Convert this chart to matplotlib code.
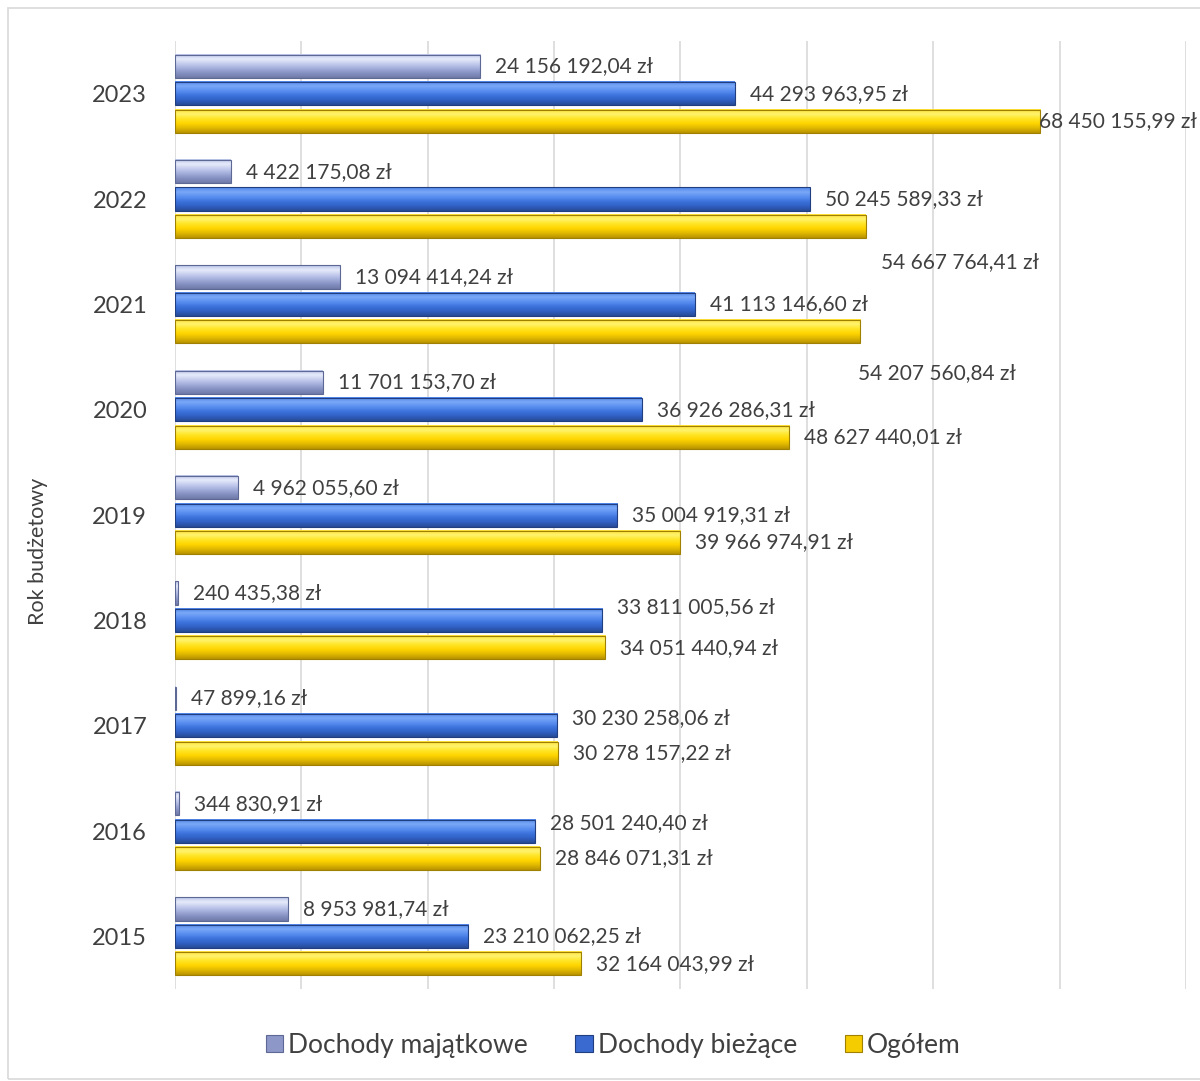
import matplotlib
matplotlib.use("Agg")
import matplotlib.pyplot as plt
import matplotlib.ticker as mticker
import numpy as np
from matplotlib.colors import LinearSegmentedColormap
from matplotlib.patches import Rectangle

# ── Data ──
years = ["2015", "2016", "2017", "2018", "2019", "2020", "2021", "2022", "2023"]

dochody_majatkowe = [8953981.74, 344830.91, 47899.16, 240435.38, 4962055.60,
                     11701153.70, 13094414.24, 4422175.08, 24156192.04]
dochody_biezace = [23210062.25, 28501240.40, 30230258.06, 33811005.56, 35004919.31,
                   36926286.31, 41113146.60, 50245589.33, 44293963.95]
ogolem = [32164043.99, 28846071.31, 30278157.22, 34051440.94, 39966974.91,
          48627440.01, 54207560.84, 54667764.41, 68450155.99]

series_names = ["Dochody majątkowe", "Dochody bieżące", "Ogółem"]

# ── Style ──
FONT = "Lato"
TEXT_COLOR = "#404040"
GRID_COLOR = "#d9d9d9"

# gradient stops (bottom -> top) for the bevelled Excel-like bars
GRADIENTS = [
    ["#6f7aa8", "#8591c2", "#a3aedb", "#c4cced", "#e6ebfa", "#b9c3e8"],
    ["#274a94", "#3060c4", "#3d73dd", "#5b8ff0", "#7aa8f7", "#4f86e8"],
    ["#b89200", "#e0b800", "#ffd500", "#ffe526", "#fff36e", "#ffe033"],
]
EDGES = ["#5e6894", "#213f80", "#a08000"]
LEGEND_COLORS = ["#8d98c8", "#3a6ad0", "#f5cc00"]

BAR_H = 0.22
OFFSETS = [0.26, 0.0, -0.26]

# label tweaks (pixels) where the original chart moved labels around
label_dx = {(2, 8): -16, (2, 6): -17}
label_dy = {(2, 7): -36, (2, 6): -41, (1, 3): 13, (1, 2): 8, (1, 1): 8}


def fmt_pln(v):
    whole, frac = f"{v:.2f}".split(".")
    groups = []
    while whole:
        groups.insert(0, whole[-3:])
        whole = whole[:-3]
    return " ".join(groups) + "," + frac + " zł"


def gradient_bar(ax, y, width, height, stops, edge):
    cmap = LinearSegmentedColormap.from_list("g", stops)
    grad = np.linspace(0, 1, 64).reshape(-1, 1)
    ax.imshow(grad, cmap=cmap, origin="lower", aspect="auto",
              extent=(0, width, y - height / 2, y + height / 2),
              interpolation="bilinear", zorder=3)
    ax.add_patch(Rectangle((0, y - height / 2), width, height, fill=False,
                           edgecolor=edge, linewidth=0.8, zorder=4))


fig = plt.figure(figsize=(12, 10.81), dpi=100)
ax = fig.add_axes([0.1458, 0.085, 0.8425, 0.877])

all_series = [dochody_majatkowe, dochody_biezace, ogolem]
y_pos = np.arange(len(years))

for s, values in enumerate(all_series):
    for i, v in enumerate(values):
        y = y_pos[i] + OFFSETS[s]
        gradient_bar(ax, y, v, BAR_H, GRADIENTS[s], EDGES[s])
        dx = 15 + label_dx.get((s, i), 0)
        dy = label_dy.get((s, i), 0)
        ax.annotate(fmt_pln(v), xy=(v, y), xytext=(dx * 0.72, dy * 0.72),
                    textcoords="offset points", ha="left", va="center",
                    fontsize=15, color=TEXT_COLOR, family=FONT, zorder=5)

ax.set_xlim(0, 80e6)
ax.set_ylim(-0.5, len(years) - 0.5)
ax.xaxis.set_major_locator(mticker.MultipleLocator(10e6))
ax.grid(axis="x", color=GRID_COLOR, linewidth=1.2, zorder=0)
ax.set_axisbelow(True)
ax.tick_params(axis="x", length=0, labelbottom=False)
ax.tick_params(axis="y", length=0, pad=20)
ax.set_yticks(y_pos)
ax.set_yticklabels(years, fontsize=17, color=TEXT_COLOR, family=FONT)
for side in ["top", "right", "bottom", "left"]:
    ax.spines[side].set_visible(False)

fig.text(0.032, 0.49, "Rok budżetowy", rotation=90, ha="center", va="center",
         fontsize=15.5, color=TEXT_COLOR, family=FONT)

handles = [Rectangle((0, 0), 1, 1, facecolor=c, edgecolor=e, linewidth=0.8)
           for c, e in zip(LEGEND_COLORS, EDGES)]
fig.legend(handles, series_names, loc="center", bbox_to_anchor=(0.511, 0.033),
           ncol=3, frameon=False, prop={"family": FONT, "size": 19},
           handlelength=0.65, handleheight=0.65, handletextpad=0.2,
           columnspacing=1.8, labelcolor=TEXT_COLOR)

# outer chart frame
fig.patches.append(Rectangle((8 / 1200, 2 / 1081), 1.2, 1 - 10 / 1081,
                             transform=fig.transFigure, fill=False,
                             edgecolor="#d9d9d9", linewidth=1.2))

fig.savefig("out.png", dpi=100)
